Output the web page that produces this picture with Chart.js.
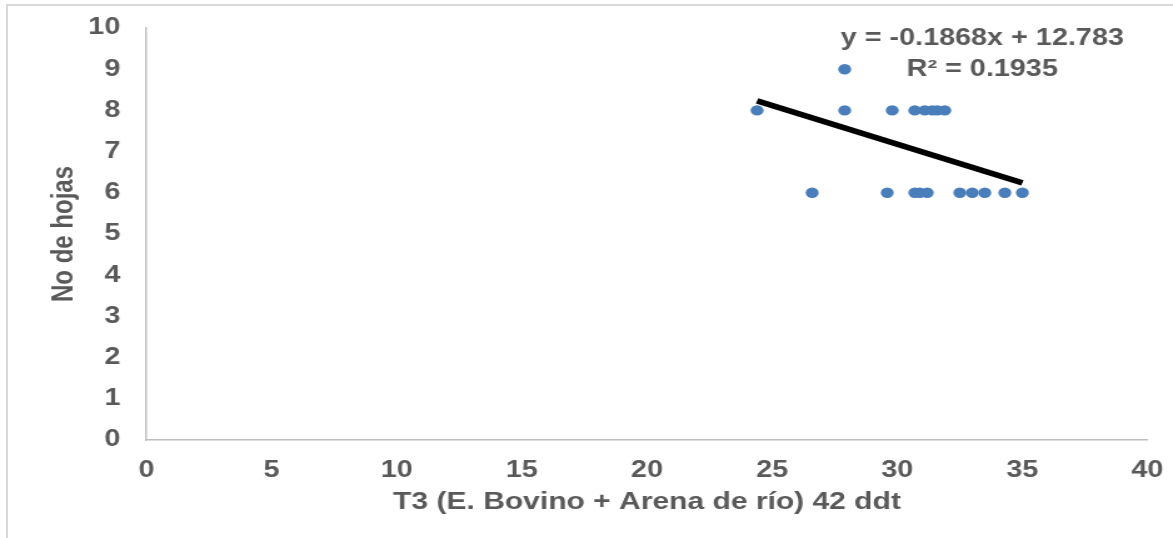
<!DOCTYPE html>
<html>
<head>
<meta charset="utf-8">
<title>No de hojas - T3</title>
<script src="https://cdn.jsdelivr.net/npm/chart.js@4.4.1/dist/chart.umd.min.js"></script>
<style>
    html, body { margin: 0; padding: 0; background: #fff; overflow: hidden; }
    #frame { position: absolute; left: 6px; top: 4px; right: 0; bottom: 0; border-left: 2px solid #d9d9d9; border-top: 2px solid #d9d9d9; }
    /* the original picture is an Excel chart stretched sideways */
    #wrap { position: absolute; left: 0; top: 0; width: 938px; height: 538px; transform: scaleX(1.2505); transform-origin: 0 0; }
</style>
</head>
<body>
<div id="frame"></div>
<div id="wrap"><canvas id="scatterChart" width="938" height="538"></canvas></div>
<script>
// T3 (E. Bovino + Arena de río) 42 ddt vs number of leaves
const tempX = [24.4, 27.9, 27.9, 29.8, 30.7, 31.1, 31.4, 31.6, 31.9,
               26.6, 29.6, 30.7, 30.9, 31.2, 32.5, 33.0, 33.5, 34.3, 35.0];
const hojas = [8, 9, 8, 8, 8, 8, 8, 8, 8,
               6, 6, 6, 6, 6, 6, 6, 6, 6, 6];
const trendX = [24.4, 35.0];
const trendY = [8.23, 6.24];
const xTicks = [0, 5, 10, 15, 20, 25, 30, 35, 40];
const yTicks = [0, 1, 2, 3, 4, 5, 6, 7, 8, 9, 10];
const eqLabels = ['y = -0.1868x + 12.783', 'R² = 0.1935'];

let ChartHojas = function () {
    const textColor = '#595959';
    const family = '"Liberation Sans", Arial, sans-serif';

    let eqPlugin = {
        id: 'eqLabel',
        afterDatasetsDraw: function (chart) {
            const ctx = chart.ctx;
            const xs = chart.scales.x, ys = chart.scales.y;
            ctx.save();
            ctx.font = 'bold 23px ' + family;
            ctx.fillStyle = textColor;
            ctx.textAlign = 'center';
            ctx.textBaseline = 'middle';
            ctx.fillText(eqLabels[0], xs.getPixelForValue(33.4), ys.getPixelForValue(9.73));
            ctx.fillText(eqLabels[1], xs.getPixelForValue(33.4), ys.getPixelForValue(9.0));
            ctx.restore();
        }
    };

    // fixed axis boxes, so the plot area lands where the original has it
    let fitX = function (s) {
        s.height = 98;
        s.paddingLeft = 0; s.paddingRight = 0;
    };
    let fitY = function (s) {
        s.width = 117.2;
        s.paddingTop = 0; s.paddingBottom = 0;
    };

    let _ChartHojas = function () {
        var points = tempX.map((x, i) => ({ x: x, y: hojas[i] }));
        var trend = trendX.map((x, i) => ({ x: x, y: trendY[i] }));

        var data = {
            datasets: [
                {
                    label: 'Lineal',
                    data: trend,
                    showLine: true,
                    borderColor: '#000',
                    borderWidth: 5.5,
                    pointRadius: 0,
                    order: 0
                },
                {
                    label: 'No de hojas',
                    data: points,
                    backgroundColor: '#4a7ebb',
                    borderColor: '#4a7ebb',
                    borderWidth: 0,
                    pointRadius: 5.2,
                    order: 1
                }
            ]
        };

        var options = {
            responsive: false,
            devicePixelRatio: 1,
            animation: false,
            layout: { padding: { left: 0, top: 28, right: 20.4, bottom: 0 } },
            plugins: {
                legend: { display: false },
                tooltip: { enabled: false }
            },
            scales: {
                x: {
                    type: 'linear',
                    min: 0,
                    max: 40,
                    afterBuildTicks: s => { s.ticks = xTicks.map(v => ({ value: v })); },
                    afterFit: fitX,
                    grid: { display: false, drawTicks: false },
                    border: { display: true, color: '#bfbfbf', width: 1.5 },
                    ticks: {
                        padding: 17,
                        color: textColor,
                        font: { family: family, size: 23, weight: 'bold' }
                    },
                    title: {
                        display: true,
                        text: 'T3 (E. Bovino + Arena de río) 42 ddt',
                        color: textColor,
                        font: { family: family, size: 24, weight: 'bold' },
                        padding: { top: 0, bottom: 21 }
                    }
                },
                y: {
                    min: 0,
                    max: 10,
                    afterBuildTicks: s => { s.ticks = yTicks.map(v => ({ value: v })); },
                    afterFit: fitY,
                    grid: { display: false, drawTicks: false },
                    border: { display: true, color: '#bfbfbf', width: 1.5 },
                    ticks: {
                        padding: 21,
                        color: textColor,
                        font: { family: family, size: 23, weight: 'bold' }
                    },
                    title: {
                        display: true,
                        text: 'No de hojas',
                        color: textColor,
                        font: { family: family, size: 24, weight: 'bold' },
                        padding: { top: 37, bottom: 0 }
                    }
                }
            }
        };

        var ctx = document.getElementById('scatterChart').getContext('2d');
        new Chart(ctx, { type: 'scatter', data: data, options: options, plugins: [eqPlugin] });
    };
    return {
        init: () => {
            _ChartHojas();
        }
    }
}();
document.addEventListener('DOMContentLoaded', function () {
    ChartHojas.init();
})
</script>
</body>
</html>
